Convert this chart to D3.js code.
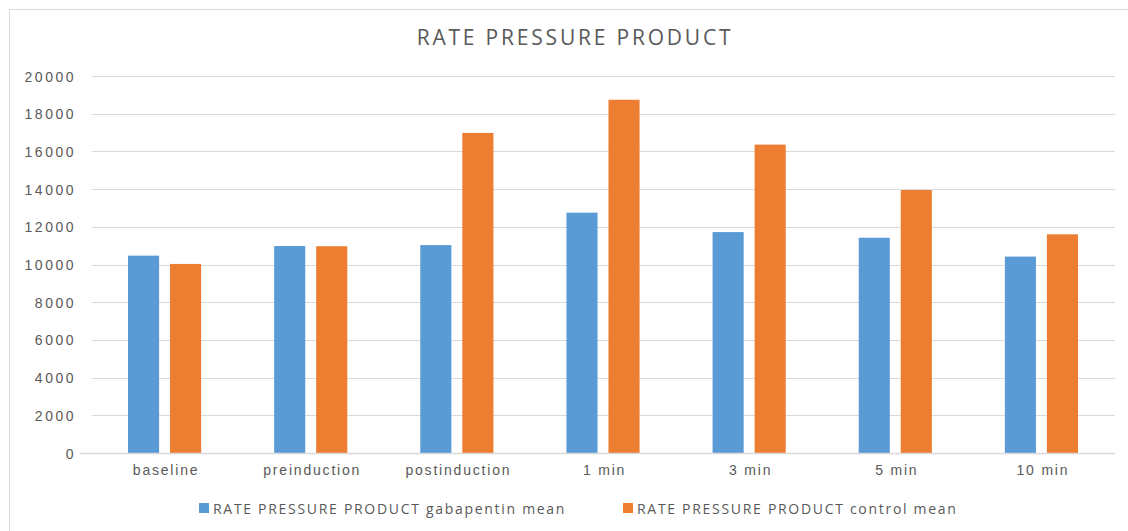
<!DOCTYPE html>
<html>
<head>
<meta charset="utf-8">
<script src="https://cdn.jsdelivr.net/npm/d3@7"></script>
<style>
  body { margin: 0; background: #fff; }
  svg { display: block; font-family: "Open Sans", "Liberation Sans", sans-serif; }
  .axis text { fill: #595959; font-size: 14px; }
  .axis path, .axis line { stroke: none; }
  .y.axis text { letter-spacing: 2.5px; }
  .x.axis text { letter-spacing: 1.8px; }
</style>
</head>
<body>
<svg id="chart" width="1128" height="531"></svg>
<script>
'use strict';
// Chart data.
var categories = ['baseline', 'preinduction', 'postinduction', '1 min', '3 min', '5 min', '10 min'];
var seriesNames = ['RATE PRESSURE PRODUCT gabapentin mean', 'RATE PRESSURE PRODUCT control mean'];
var gabapentin = [10470, 10980, 11030, 12750, 11720, 11420, 10420];
var control = [10030, 10970, 16980, 18740, 16360, 13950, 11600];
var yTicks = [0, 2000, 4000, 6000, 8000, 10000, 12000, 14000, 16000, 18000, 20000];
var colors = ['#5b9bd5', '#ed7d31'];

var svg = d3.select('#chart');
var margin = {top: 76, right: 13, bottom: 78, left: 92};
var width = 1128 - margin.left - margin.right;
var height = 531 - margin.top - margin.bottom;

// Outer frame (only left and top edges fall inside the picture).
svg.append('path')
    .attr('d', 'M9.5,531V9.5H1128')
    .attr('fill', 'none')
    .attr('stroke', '#d9d9d9');

svg.append('text')
    .attr('x', 575)
    .attr('y', 45)
    .attr('text-anchor', 'middle')
    .attr('fill', '#595959')
    .style('font-size', '21px')
    .style('letter-spacing', '2.8px')
    .text('RATE PRESSURE PRODUCT');

var g = svg.append('g')
    .attr('transform', 'translate(' + margin.left + ',' + margin.top + ')');

var yScale = d3.scaleLinear().domain([0, 20000]).range([height, 0]);
var xScale = d3.scaleBand().domain(categories).range([0, width]).paddingInner(0).paddingOuter(0);
var inner = d3.scaleBand().domain([0, 1]).range([36, xScale.bandwidth() - 37]).paddingInner(0.26);

// Gridlines.
g.selectAll('line.grid')
    .data(yTicks.slice(1))
    .enter()
    .append('line')
    .attr('x1', 0)
    .attr('x2', width)
    .attr('y1', function(d) { return Math.round(yScale(d)) + 0.5; })
    .attr('y2', function(d) { return Math.round(yScale(d)) + 0.5; })
    .attr('stroke', '#d9d9d9')
    .attr('stroke-width', 1);

// Y axis.
g.append('g')
    .attr('class', 'y axis')
    .attr('transform', 'translate(-16,0)')
    .call(d3.axisLeft(yScale).tickValues(yTicks).tickSize(0).tickPadding(0).tickFormat(d3.format('d')))
    .selectAll('text')
    .attr('dy', '0.36em');

// Bars.
var series = [gabapentin, control];
series.forEach(function(values, s) {
    g.selectAll('rect.s' + s)
        .data(values)
        .enter()
        .append('rect')
        .attr('class', 's' + s)
        .attr('x', function(d, i) { return xScale(categories[i]) + inner(s); })
        .attr('y', function(d) { return yScale(d); })
        .attr('width', inner.bandwidth())
        .attr('height', function(d) { return height - yScale(d); })
        .attr('fill', colors[s]);
});

// X axis baseline.
g.append('line')
    .attr('x1', -12)
    .attr('x2', width)
    .attr('y1', height + 0.5)
    .attr('y2', height + 0.5)
    .attr('stroke', '#d9d9d9')
    .attr('stroke-width', 1.5);

g.append('g')
    .attr('class', 'x axis')
    .attr('transform', 'translate(1,' + height + ')')
    .call(d3.axisBottom(xScale).tickSize(0).tickPadding(12));

// Legend.
var legendX = [199, 623];
var legend = svg.selectAll('g.legend')
    .data(seriesNames)
    .enter()
    .append('g')
    .attr('class', 'legend')
    .attr('transform', function(d, i) { return 'translate(' + legendX[i] + ',503)'; });
legend.append('rect')
    .attr('width', 10)
    .attr('height', 10)
    .attr('fill', function(d, i) { return colors[i]; });
legend.append('text')
    .attr('x', 14)
    .attr('y', 10.5)
    .attr('fill', '#595959')
    .style('font-size', '14px')
    .style('letter-spacing', '1.7px')
    .text(function(d) { return d; });
</script>
</body>
</html>
